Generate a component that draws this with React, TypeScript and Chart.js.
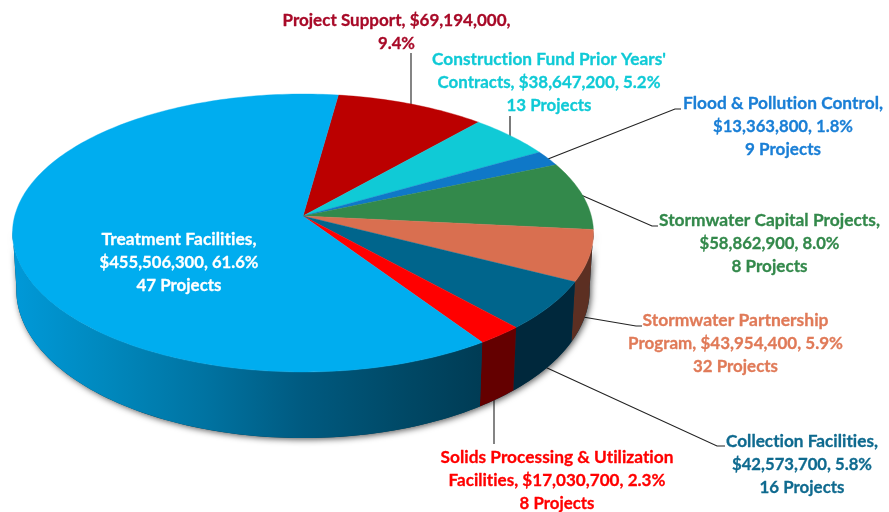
import React, { useEffect, useRef } from "react";
import { Chart, registerables } from "chart.js";

Chart.register(...registerables);

const categories = [
  "Project Support",
  "Construction Fund Prior Years' Contracts",
  "Flood & Pollution Control",
  "Stormwater Capital Projects",
  "Stormwater Partnership Program",
  "Collection Facilities",
  "Solids Processing & Utilization Facilities",
  "Treatment Facilities",
];
const amounts = [69194000, 38647200, 13363800, 58862900, 43954400, 42573700, 17030700, 455506300];
const topColors = ["#bb0000", "#10cad6", "#0f78c8", "#33894b", "#d96f50", "#00658c", "#ff0000", "#00adef"];
const wallColors = ["#800000", "#0a8a92", "#0a5088", "#225c32", "#5c2f22", "#00283c", "#640000", "#003c55"];
const labelLines = [
  ["Project Support, $69,194,000,", "9.4%"],
  ["Construction Fund Prior Years'", "Contracts, $38,647,200, 5.2%", "13 Projects"],
  ["Flood & Pollution Control,", "$13,363,800, 1.8%", "9 Projects"],
  ["Stormwater Capital Projects,", "$58,862,900, 8.0%", "8 Projects"],
  ["Stormwater Partnership", "Program, $43,954,400, 5.9%", "32 Projects"],
  ["Collection Facilities,", "$42,573,700, 5.8%", "16 Projects"],
  ["Solids Processing & Utilization", "Facilities, $17,030,700, 2.3%", "8 Projects"],
  ["Treatment Facilities,", "$455,506,300, 61.6%", "47 Projects"],
];

const labelLayout = [
  { x: 396.5, y: 20, color: "#a80a28", widths: [228, 37] },
  { x: 549, y: 59, color: "#10cad6", widths: [234, 223, 85] },
  { x: 783, y: 103, color: "#1a7fd6", widths: [200, 140, 76] },
  { x: 769.5, y: 220, color: "#33894b", widths: [221, 140, 76] },
  { x: 735.5, y: 320, color: "#e07a58", widths: [186, 215, 85] },
  { x: 802, y: 441, color: "#0f6a8f", widths: [152, 140, 85] },
  { x: 557, y: 457, color: "#ff0000", widths: [233, 217, 75] },
  { x: 179, y: 239, color: "#ffffff", widths: [155, 159, 85] },
];
const leaders = [
  { color: "#666666", width: 1.6, pts: [[411, 53], [411, 106]] },
  { color: "#222222", width: 1.2, pts: [[510, 116], [510, 137]] },
  { color: "#222222", width: 1.1, pts: [[548, 159], [675, 109], [681, 109]] },
  { color: "#222222", width: 1.1, pts: [[581, 195], [652, 226], [658, 226]] },
  { color: "#222222", width: 1.1, pts: [[583, 317], [636, 326], [642, 326]] },
  { color: "#222222", width: 1.1, pts: [[545, 367], [717, 446], [725, 446]] },
  { color: "#666666", width: 1.6, pts: [[494, 400], [494, 444]] },
];

// Perspective of the disc: the library's arc angles are projected through these.
const K = 0.1223;
const A = 288.3;
const B = 136.9;
const BOTTOM_X = 0.987;
const BOTTOM_Y = 1.067;
const BOTTOM_DROP = 55.6;
const WALL_FROM = (6 * Math.PI) / 180;
const WALL_TO = (174 * Math.PI) / 180;

const project = (cx: number, cy: number, t: number, bottom = false) => {
  const u = Math.cos(t);
  const v = Math.sin(t);
  const w = 1 - K * v;
  const dx = (A * u) / w;
  const dy = (B * v) / w;
  return bottom
    ? [cx + dx * BOTTOM_X, cy + dy * BOTTOM_Y + BOTTOM_DROP]
    : [cx + dx, cy + dy];
};

const tracePath = (ctx: CanvasRenderingContext2D, pts: number[][]) => {
  pts.forEach((p, i) => (i ? ctx.lineTo(p[0], p[1]) : ctx.moveTo(p[0], p[1])));
};

const wallPoints = (cx: number, cy: number, a: number, b: number) => {
  const n = Math.max(4, Math.ceil((b - a) / 0.02));
  const pts: number[][] = [];
  for (let i = 0; i <= n; i++) pts.push(project(cx, cy, a + ((b - a) * i) / n));
  for (let i = n; i >= 0; i--) pts.push(project(cx, cy, a + ((b - a) * i) / n, true));
  return pts;
};

const pie3d = {
  id: "pie3d",
  beforeDatasetDraw(chart: any, args: any) {
    const ctx: CanvasRenderingContext2D = chart.ctx;
    const arcs = args.meta.data;
    const cx = arcs[0].x;
    const cy = arcs[0].y;

    leaders.forEach((l) => {
      ctx.save();
      ctx.strokeStyle = l.color;
      ctx.lineWidth = l.width;
      ctx.beginPath();
      tracePath(ctx, l.pts);
      ctx.stroke();
      ctx.restore();
    });

    // silhouette with soft shadow
    ctx.save();
    ctx.shadowColor = "rgba(0,0,0,0.65)";
    ctx.shadowBlur = 6;
    ctx.shadowOffsetX = 1.5;
    ctx.shadowOffsetY = 1.5;
    ctx.fillStyle = "#003c55";
    ctx.beginPath();
    tracePath(ctx, wallPoints(cx, cy, WALL_FROM, WALL_TO));
    ctx.closePath();
    ctx.fill();
    ctx.restore();

    // walls
    arcs.forEach((arc: any, i: number) => {
      const { startAngle, endAngle } = arc.getProps(["startAngle", "endAngle"], true);
      const a = Math.max(startAngle, WALL_FROM);
      const b = Math.min(endAngle, WALL_TO);
      if (b <= a) return;
      let fill: any = wallColors[i];
      if (i === arcs.length - 1) {
        const g = ctx.createLinearGradient(14, 0, 480, 0);
        g.addColorStop(0, "#0099d8");
        g.addColorStop(0.2, "#0088bd");
        g.addColorStop(0.42, "#0072a0");
        g.addColorStop(0.62, "#005a80");
        g.addColorStop(0.82, "#004a68");
        g.addColorStop(1, "#003c55");
        fill = g;
      }
      ctx.fillStyle = fill;
      ctx.beginPath();
      tracePath(ctx, wallPoints(cx, cy, a, b));
      ctx.closePath();
      ctx.fill();
    });

    // top faces
    arcs.forEach((arc: any, i: number) => {
      const { startAngle, endAngle } = arc.getProps(["startAngle", "endAngle"], true);
      const n = Math.max(4, Math.ceil((endAngle - startAngle) / 0.02));
      const pts: number[][] = [[cx, cy]];
      for (let j = 0; j <= n; j++) {
        pts.push(project(cx, cy, startAngle + ((endAngle - startAngle) * j) / n));
      }
      ctx.fillStyle = arc.options.backgroundColor;
      ctx.strokeStyle = arc.options.backgroundColor;
      ctx.lineWidth = 0.4;
      ctx.beginPath();
      tracePath(ctx, pts);
      ctx.closePath();
      ctx.fill();
      ctx.stroke();
    });
    return false;
  },
  afterDatasetsDraw(chart: any) {
    const ctx: any = chart.ctx;
    ctx.save();
    ctx.font = "bold 17.5px Lato";
    ctx.letterSpacing = "0.01px";
    ctx.textAlign = "center";
    ctx.textBaseline = "middle";
    ctx.lineWidth = 0.3;
    ctx.lineJoin = "round";
    labelLines.forEach((lines, i) => {
      const l = labelLayout[i];
      ctx.fillStyle = l.color;
      ctx.strokeStyle = l.color;
      lines.forEach((t, j) => {
        const yy = l.y + j * 23;
        ctx.fillText(t, l.x, yy, l.widths[j]);
        ctx.strokeText(t, l.x, yy, l.widths[j]);
      });
    });
    ctx.restore();
  },
};

export default function App() {
  const ref = useRef<HTMLCanvasElement>(null);
  useEffect(() => {
    const chart = new Chart(ref.current!, {
      type: "pie",
      data: {
        labels: categories,
        datasets: [{ data: amounts, backgroundColor: topColors, borderWidth: 0 }],
      },
      options: {
        responsive: false,
        animation: false,
        rotation: 7.9,
        layout: { padding: { left: 13, right: 296, top: 94, bottom: 174 } },
        plugins: { legend: { display: false }, tooltip: { enabled: false } },
      },
      plugins: [pie3d],
    } as any);
    return () => chart.destroy();
  }, []);
  return (
    <div style={{ position: "absolute", left: 0, top: 0, width: 889, height: 512, background: "#fff" }}>
      <canvas ref={ref} width={889} height={512} style={{ display: "block" }} />
    </div>
  );
}
